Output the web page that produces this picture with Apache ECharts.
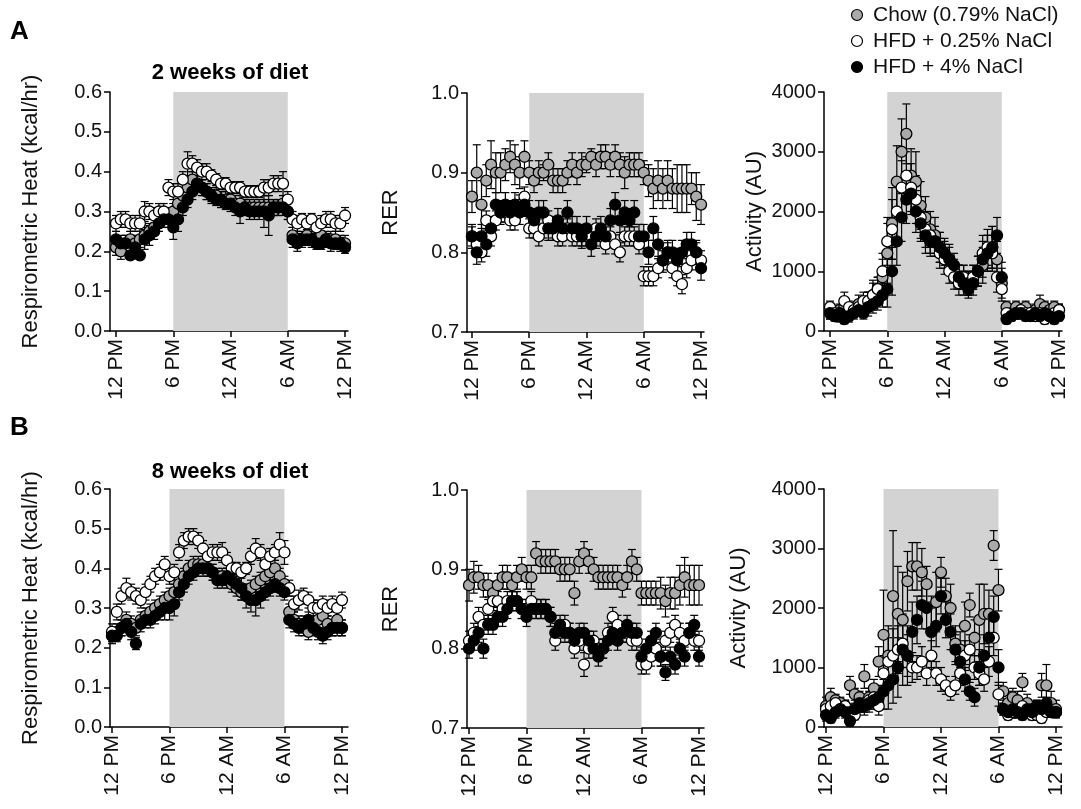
<!DOCTYPE html>
<html>
<head>
<meta charset="utf-8">
<script src="https://cdn.jsdelivr.net/npm/echarts@6/dist/echarts.min.js"></script>
<style>
  html, body { margin: 0; padding: 0; background: #fff; }
  #chart { width: 1081px; height: 809px; }
</style>
</head>
<body>
<div id="chart"></div>
<script>
// time of day, hours after 12 PM (one reading every 30 min)
const hours = [0, 0.5, 1, 1.5, 2, 2.5, 3, 3.5, 4, 4.5, 5, 5.5,
  6, 6.5, 7, 7.5, 8, 8.5, 9, 9.5, 10, 10.5, 11, 11.5,
  12, 12.5, 13, 13.5, 14, 14.5, 15, 15.5, 16, 16.5, 17, 17.5,
  18, 18.5, 19, 19.5, 20, 20.5, 21, 21.5, 22, 22.5, 23, 23.5, 24];
const tickHours = [0, 6, 12, 18, 24];
const tickLabels = ['12 PM', '6 PM', '12 AM', '6 AM', '12 PM'];
const groupNames = ['Chow (0.79% NaCl)', 'HFD + 0.25% NaCl', 'HFD + 4% NaCl'];

// ---- A: 2 weeks of diet ----
const heat2Chow = [0.21,0.20,0.22,0.23,0.22,0.23,0.24,0.25,0.26,0.27,0.28,0.29,
  0.30,0.32,0.34,0.36,0.38,0.37,0.36,0.35,0.34,0.34,0.33,0.33,
  0.33,0.32,0.32,0.31,0.31,0.31,0.31,0.31,0.31,0.31,0.31,0.32,
  0.30,0.24,0.23,0.23,0.24,0.23,0.23,0.24,0.23,0.23,0.23,0.22,0.22];
const heat2ChowErr = [0.02,0.02,0.02,0.02,0.02,0.02,0.02,0.02,0.02,0.02,0.02,0.02,
  0.02,0.02,0.02,0.02,0.02,0.02,0.02,0.02,0.02,0.02,0.02,0.02,
  0.02,0.02,0.02,0.02,0.02,0.02,0.02,0.02,0.02,0.02,0.02,0.02,
  0.02,0.02,0.02,0.02,0.02,0.02,0.02,0.02,0.02,0.02,0.02,0.02,0.02];
const heat2Low = [0.27,0.28,0.28,0.27,0.27,0.27,0.30,0.30,0.29,0.30,0.30,0.36,
  0.35,0.35,0.38,0.42,0.42,0.41,0.40,0.40,0.39,0.38,0.37,0.37,
  0.36,0.36,0.36,0.35,0.35,0.35,0.35,0.36,0.36,0.37,0.37,0.37,
  0.33,0.28,0.27,0.28,0.27,0.28,0.26,0.27,0.28,0.28,0.27,0.27,0.29];
const heat2LowErr = [0.02,0.02,0.02,0.02,0.02,0.02,0.025,0.02,0.02,0.02,0.02,0.02,
  0.02,0.02,0.02,0.03,0.02,0.02,0.02,0.02,0.015,0.015,0.015,0.015,
  0.015,0.015,0.015,0.015,0.015,0.015,0.015,0.02,0.02,0.02,0.02,0.03,
  0.02,0.02,0.02,0.015,0.015,0.015,0.015,0.02,0.02,0.02,0.02,0.02,0.02];
const heat2High = [0.23,0.22,0.22,0.19,0.21,0.19,0.23,0.24,0.25,0.27,0.28,0.28,
  0.26,0.28,0.31,0.33,0.35,0.37,0.36,0.35,0.34,0.33,0.33,0.32,
  0.32,0.31,0.30,0.31,0.30,0.30,0.30,0.30,0.29,0.31,0.31,0.31,
  0.30,0.23,0.22,0.23,0.23,0.23,0.22,0.22,0.23,0.22,0.22,0.22,0.21];
const heat2HighErr = [0.02,0.02,0.02,0.01,0.02,0.01,0.025,0.025,0.02,0.02,0.02,0.02,
  0.03,0.03,0.02,0.02,0.02,0.02,0.02,0.02,0.015,0.015,0.02,0.015,
  0.02,0.02,0.03,0.02,0.02,0.02,0.02,0.04,0.05,0.02,0.02,0.02,
  0.02,0.02,0.02,0.015,0.015,0.015,0.015,0.015,0.015,0.02,0.015,0.015,0.015];

const rer2Chow = [0.87,0.90,0.86,0.89,0.91,0.90,0.90,0.91,0.92,0.91,0.90,0.92,
  0.90,0.89,0.90,0.90,0.91,0.89,0.89,0.89,0.90,0.91,0.90,0.91,
  0.91,0.92,0.91,0.92,0.92,0.91,0.92,0.91,0.90,0.91,0.91,0.91,
  0.90,0.89,0.88,0.89,0.88,0.89,0.88,0.88,0.88,0.88,0.88,0.87,0.86];
const rer2ChowErr = [0.02,0.035,0.03,0.02,0.03,0.025,0.025,0.02,0.02,0.025,0.02,0.02,
  0.015,0.015,0.015,0.01,0.015,0.015,0.015,0.015,0.015,0.015,0.015,0.015,
  0.01,0.01,0.015,0.015,0.015,0.015,0.015,0.015,0.02,0.015,0.015,0.015,
  0.015,0.02,0.025,0.025,0.025,0.025,0.025,0.03,0.03,0.03,0.02,0.03,0.025];
const rer2Low = [0.82,0.81,0.80,0.84,0.82,0.84,0.85,0.85,0.84,0.84,0.86,0.87,
  0.83,0.83,0.82,0.83,0.84,0.83,0.82,0.82,0.83,0.82,0.82,0.82,
  0.82,0.82,0.83,0.82,0.81,0.82,0.81,0.80,0.82,0.82,0.82,0.81,
  0.77,0.77,0.77,0.78,0.79,0.80,0.78,0.77,0.76,0.78,0.79,0.80,0.79];
const rer2LowErr = [0.012,0.012,0.012,0.012,0.012,0.012,0.012,0.012,0.012,0.012,0.012,0.012,
  0.012,0.012,0.012,0.012,0.012,0.012,0.012,0.012,0.012,0.012,0.012,0.012,
  0.012,0.012,0.012,0.012,0.012,0.012,0.012,0.012,0.012,0.012,0.012,0.012,
  0.012,0.012,0.012,0.012,0.012,0.012,0.012,0.012,0.012,0.012,0.012,0.012,0.012];
const rer2High = [0.82,0.80,0.82,0.81,0.83,0.86,0.85,0.86,0.85,0.86,0.85,0.86,
  0.85,0.84,0.85,0.85,0.83,0.83,0.84,0.83,0.85,0.83,0.83,0.82,
  0.83,0.81,0.82,0.83,0.82,0.84,0.86,0.84,0.85,0.84,0.85,0.82,
  0.82,0.80,0.83,0.81,0.79,0.80,0.80,0.79,0.80,0.81,0.81,0.80,0.78];
const rer2HighErr = [0.015,0.015,0.015,0.015,0.015,0.015,0.015,0.015,0.015,0.015,0.015,0.015,
  0.015,0.015,0.015,0.015,0.015,0.015,0.015,0.015,0.015,0.015,0.015,0.015,
  0.015,0.015,0.015,0.015,0.015,0.015,0.015,0.015,0.015,0.015,0.015,0.015,
  0.015,0.015,0.015,0.015,0.015,0.015,0.015,0.015,0.015,0.015,0.015,0.015,0.015];

const act2Chow = [300,250,350,400,300,350,450,400,500,600,700,900,
  1300,1800,2500,3000,3300,2600,2500,2100,1900,1700,1600,1400,
  1300,1200,1000,900,900,800,900,1000,1100,1300,1400,1200,
  800,400,300,400,350,400,300,350,450,400,350,400,350];
const act2ChowErr = [100,80,100,150,100,100,150,100,150,250,200,300,
  500,600,600,550,500,450,500,400,350,300,300,250,
  250,250,200,200,200,200,200,250,300,300,350,300,
  250,100,100,100,100,100,100,100,150,100,100,100,100];
const act2Low = [400,300,250,500,400,350,400,500,500,600,700,1000,
  1500,1700,2000,2400,2600,2400,2200,1900,1700,1600,1500,1300,
  1200,1000,900,800,900,800,900,1000,1300,1400,1300,900,
  700,300,250,300,350,300,300,250,300,200,250,300,350];
const act2LowErr = [100,80,100,150,100,100,100,150,150,200,200,300,
  400,500,500,450,400,400,400,350,300,300,250,250,
  250,200,200,200,200,200,200,250,300,300,300,250,
  200,100,80,100,100,100,100,80,100,80,80,100,100];
const act2High = [300,250,300,200,250,300,350,300,400,450,500,600,
  700,1000,1500,1900,2200,2300,2000,1800,1600,1500,1500,1400,
  1300,1200,1100,900,800,700,800,1000,1200,1300,1400,1600,
  900,200,250,300,300,250,250,300,250,300,250,200,250];
const act2HighErr = [100,80,100,80,100,100,100,100,150,150,150,200,
  300,400,400,400,400,350,350,300,300,250,250,250,
  200,200,200,200,200,150,200,250,300,300,350,300,
  250,80,80,100,100,80,80,100,80,100,80,80,80];

// ---- B: 8 weeks of diet ----
const heat8Chow = [0.23,0.24,0.25,0.27,0.26,0.25,0.27,0.28,0.29,0.30,0.31,0.32,
  0.33,0.34,0.36,0.38,0.40,0.41,0.41,0.41,0.40,0.39,0.38,0.38,
  0.37,0.36,0.35,0.34,0.34,0.35,0.36,0.37,0.38,0.39,0.40,0.38,
  0.36,0.29,0.27,0.26,0.25,0.24,0.26,0.27,0.28,0.26,0.25,0.27,0.25];
const heat8ChowErr = [0.02,0.02,0.02,0.02,0.02,0.02,0.02,0.02,0.02,0.02,0.02,0.02,
  0.02,0.02,0.02,0.02,0.02,0.02,0.02,0.02,0.02,0.02,0.02,0.02,
  0.02,0.02,0.02,0.02,0.02,0.02,0.02,0.02,0.02,0.02,0.02,0.02,
  0.02,0.02,0.02,0.02,0.02,0.02,0.02,0.02,0.02,0.02,0.02,0.02,0.02];
const heat8Low = [0.24,0.29,0.33,0.35,0.34,0.33,0.32,0.34,0.36,0.38,0.39,0.41,
  0.38,0.39,0.44,0.47,0.48,0.48,0.47,0.45,0.43,0.44,0.44,0.44,
  0.42,0.40,0.40,0.39,0.40,0.43,0.45,0.44,0.41,0.43,0.44,0.46,
  0.44,0.35,0.31,0.32,0.33,0.32,0.30,0.30,0.31,0.30,0.31,0.30,0.32];
const heat8LowErr = [0.02,0.02,0.02,0.025,0.02,0.02,0.02,0.02,0.02,0.02,0.02,0.02,
  0.02,0.02,0.02,0.02,0.02,0.02,0.02,0.02,0.02,0.02,0.02,0.025,
  0.02,0.015,0.015,0.015,0.015,0.02,0.025,0.02,0.02,0.02,0.02,0.03,
  0.03,0.02,0.02,0.025,0.02,0.02,0.02,0.02,0.02,0.02,0.02,0.02,0.02];
const heat8High = [0.23,0.23,0.25,0.26,0.24,0.21,0.26,0.27,0.27,0.28,0.29,0.30,
  0.30,0.31,0.34,0.36,0.38,0.39,0.40,0.40,0.40,0.39,0.37,0.37,
  0.38,0.37,0.36,0.35,0.33,0.32,0.32,0.33,0.34,0.35,0.36,0.35,
  0.34,0.27,0.26,0.25,0.26,0.27,0.25,0.24,0.23,0.24,0.25,0.25,0.25];
const heat8HighErr = [0.015,0.015,0.02,0.02,0.02,0.015,0.02,0.02,0.02,0.02,0.02,0.03,
  0.03,0.03,0.02,0.02,0.02,0.02,0.02,0.02,0.02,0.02,0.02,0.02,
  0.02,0.02,0.02,0.03,0.03,0.03,0.04,0.03,0.02,0.02,0.02,0.02,
  0.02,0.02,0.02,0.02,0.02,0.02,0.02,0.02,0.02,0.02,0.02,0.02,0.02];

const rer8Chow = [0.88,0.89,0.89,0.88,0.88,0.87,0.88,0.89,0.89,0.88,0.89,0.90,
  0.89,0.89,0.92,0.91,0.91,0.91,0.91,0.90,0.90,0.90,0.87,0.91,
  0.92,0.91,0.90,0.89,0.89,0.89,0.89,0.89,0.88,0.89,0.91,0.90,
  0.87,0.87,0.87,0.87,0.87,0.86,0.87,0.87,0.88,0.89,0.88,0.88,0.88];
const rer8ChowErr = [0.02,0.02,0.015,0.015,0.015,0.015,0.015,0.015,0.015,0.015,0.015,0.015,
  0.015,0.015,0.015,0.015,0.015,0.015,0.015,0.015,0.015,0.015,0.015,0.015,
  0.015,0.015,0.015,0.015,0.015,0.015,0.015,0.015,0.015,0.015,0.015,0.015,
  0.015,0.015,0.015,0.015,0.02,0.02,0.02,0.02,0.025,0.025,0.025,0.025,0.025];
const rer8Low = [0.81,0.82,0.84,0.83,0.85,0.86,0.86,0.85,0.86,0.86,0.86,0.85,
  0.85,0.86,0.85,0.85,0.85,0.84,0.81,0.82,0.83,0.82,0.80,0.81,
  0.78,0.80,0.81,0.80,0.80,0.82,0.84,0.83,0.82,0.82,0.81,0.81,
  0.78,0.78,0.79,0.80,0.79,0.81,0.82,0.83,0.82,0.81,0.82,0.81,0.81];
const rer8LowErr = [0.012,0.012,0.012,0.012,0.012,0.012,0.012,0.012,0.012,0.012,0.012,0.012,
  0.012,0.012,0.012,0.012,0.012,0.012,0.012,0.012,0.012,0.012,0.012,0.012,
  0.015,0.012,0.012,0.012,0.012,0.012,0.012,0.012,0.012,0.012,0.012,0.012,
  0.012,0.012,0.012,0.012,0.012,0.012,0.012,0.012,0.012,0.012,0.012,0.012,0.012];
const rer8High = [0.80,0.81,0.82,0.80,0.83,0.83,0.84,0.84,0.85,0.86,0.86,0.85,
  0.84,0.85,0.85,0.85,0.85,0.84,0.82,0.83,0.82,0.82,0.81,0.82,
  0.82,0.81,0.80,0.79,0.80,0.81,0.82,0.81,0.82,0.83,0.82,0.82,
  0.79,0.80,0.81,0.82,0.79,0.77,0.79,0.78,0.80,0.79,0.82,0.83,0.79];
const rer8HighErr = [0.012,0.012,0.012,0.012,0.012,0.012,0.012,0.012,0.012,0.012,0.012,0.012,
  0.012,0.012,0.012,0.012,0.012,0.012,0.012,0.012,0.012,0.012,0.012,0.012,
  0.012,0.012,0.012,0.012,0.012,0.012,0.012,0.012,0.012,0.012,0.012,0.012,
  0.012,0.012,0.012,0.012,0.012,0.01,0.012,0.012,0.012,0.012,0.012,0.012,0.012];

const act8Chow = [350,500,450,400,350,700,550,500,850,500,650,1100,
  1550,1200,2200,1900,1800,2450,2700,2700,2600,2400,1600,2100,
  2600,2200,2000,1400,1300,1700,2050,1500,1800,1900,1900,3050,
  2300,600,400,500,450,750,400,300,350,700,700,400,300];
const act8ChowErr = [150,150,100,100,100,150,100,100,200,150,150,250,
  750,500,1100,800,800,500,400,400,400,300,600,500,
  250,300,400,300,300,400,200,300,600,500,400,250,
  350,150,200,150,150,150,150,100,100,200,350,200,150];
const act8Low = [300,350,400,300,350,250,200,350,400,450,500,350,
  900,1100,1200,1300,1400,1200,1000,1000,1100,900,1200,900,
  800,700,600,700,900,1200,1300,1000,900,800,1100,1500,
  550,300,200,250,300,350,250,200,200,150,250,250,250];
const act8LowErr = [100,100,100,100,100,100,80,100,150,150,150,150,
  300,400,450,400,400,350,250,200,250,200,250,200,
  200,150,150,150,200,250,250,200,200,200,250,300,
  200,100,80,100,100,100,80,80,80,80,80,80,80];
const act8High = [200,150,250,300,250,100,300,400,350,400,450,500,
  600,700,800,1000,1300,1200,1600,1800,2050,2000,1600,1700,
  2200,1800,1600,1300,1100,800,600,500,1000,1200,1500,1850,
  1000,300,250,300,250,200,300,250,350,300,400,250,250];
const act8HighErr = [100,80,100,100,100,80,100,150,150,150,150,200,
  300,400,400,500,600,500,500,400,400,350,400,350,
  300,300,300,250,250,200,150,150,300,350,400,350,
  300,100,100,100,100,80,100,100,100,100,100,80,80];

const fontFamily = '"Liberation Sans", Arial, sans-serif';
const fills = ['#aaaaaa', '#ffffff', '#000000'];

const panels = [
  { left: 110, top: 92, width: 238, height: 239, xmin: -0.63, xmax: 24.31, ymin: 0, ymax: 0.6, step: 0.1, dec: 1, name: 'Respirometric Heat (kcal/hr)', gap: 68,
    sets: [[heat2Chow, heat2ChowErr], [heat2Low, heat2LowErr], [heat2High, heat2HighErr]] },
  { left: 467, top: 93, width: 237, height: 239, xmin: -0.52, xmax: 24.31, ymin: 0.7, ymax: 1.0, step: 0.1, dec: 1, name: 'RER', gap: 65,
    sets: [[rer2Chow, rer2ChowErr], [rer2Low, rer2LowErr], [rer2High, rer2HighErr]] },
  { left: 824, top: 92, width: 238, height: 239, xmin: -0.63, xmax: 24.31, ymin: 0, ymax: 4000, step: 1000, dec: 0, name: 'Activity (AU)', gap: 58,
    sets: [[act2Chow, act2ChowErr], [act2Low, act2LowErr], [act2High, act2HighErr]] },
  { left: 110, top: 489, width: 238, height: 238, xmin: -0.21, xmax: 24.63, ymin: 0, ymax: 0.6, step: 0.1, dec: 1, name: 'Respirometric Heat (kcal/hr)', gap: 68,
    sets: [[heat8Chow, heat8ChowErr], [heat8Low, heat8LowErr], [heat8High, heat8HighErr]] },
  { left: 467, top: 490, width: 237, height: 238, xmin: -0.21, xmax: 24.52, ymin: 0.7, ymax: 1.0, step: 0.1, dec: 1, name: 'RER', gap: 65,
    sets: [[rer8Chow, rer8ChowErr], [rer8Low, rer8LowErr], [rer8High, rer8HighErr]] },
  { left: 824, top: 489, width: 238, height: 238, xmin: -0.21, xmax: 24.63, ymin: 0, ymax: 4000, step: 1000, dec: 0, name: 'Activity (AU)', gap: 74,
    sets: [[act8Chow, act8ChowErr], [act8Low, act8LowErr], [act8High, act8HighErr]] }
];

function renderErrorBar(params, api) {
  const x = api.value(0), y = api.value(1), e = api.value(2);
  const hi = api.coord([x, y + e]);
  const lo = api.coord([x, y - e]);
  const cap = 4;
  const style = { stroke: '#000', lineWidth: 1.2 };
  return {
    type: 'group',
    children: [
      { type: 'line', shape: { x1: hi[0], y1: hi[1], x2: lo[0], y2: lo[1] }, style },
      { type: 'line', shape: { x1: hi[0] - cap, y1: hi[1], x2: hi[0] + cap, y2: hi[1] }, style },
      { type: 'line', shape: { x1: lo[0] - cap, y1: lo[1], x2: lo[0] + cap, y2: lo[1] }, style }
    ]
  };
}

const grid = [], xAxis = [], yAxis = [], series = [];
const axisLine = { show: true, lineStyle: { color: '#000', width: 1.5 } };
const axisFont = { color: '#111', fontFamily };

panels.forEach((p, k) => {
  grid.push({ left: p.left, top: p.top, width: p.width, height: p.height });
  xAxis.push({
    type: 'value', gridIndex: k, min: p.xmin, max: p.xmax,
    splitLine: { show: false },
    axisLine: { ...axisLine, onZero: false },
    axisTick: { show: true, length: 6, lineStyle: { color: '#000', width: 1.5 }, customValues: tickHours },
    axisLabel: { ...axisFont, fontSize: 21, rotate: 90, margin: 8, customValues: tickHours,
      formatter: v => tickLabels[tickHours.indexOf(v)] }
  });
  yAxis.push({
    type: 'value', gridIndex: k, min: p.ymin, max: p.ymax, interval: p.step,
    splitLine: { show: false },
    axisLine: { ...axisLine, onZero: false },
    axisTick: { show: true, length: 6, lineStyle: { color: '#000', width: 1.5 } },
    axisLabel: { ...axisFont, fontSize: 20, margin: 8, formatter: v => v.toFixed(p.dec) },
    name: p.name, nameLocation: 'middle', nameGap: p.gap, nameRotate: 90,
    nameTextStyle: { color: '#111', fontSize: 22, fontFamily }
  });
  // dark phase shading, 6 PM to 6 AM
  series.push({
    type: 'scatter', xAxisIndex: k, yAxisIndex: k, data: [], z: 1, silent: true,
    markArea: { silent: true, itemStyle: { color: '#d3d3d3' }, data: [[{ xAxis: 6 }, { xAxis: 18 }]] }
  });
  p.sets.forEach((s, g) => {
    const rows = hours.map((h, i) => [h, s[0][i], s[1][i]]);
    series.push({
      type: 'custom', name: groupNames[g], xAxisIndex: k, yAxisIndex: k, z: 2,
      renderItem: renderErrorBar, data: rows, silent: true
    });
    series.push({
      type: 'scatter', name: groupNames[g], xAxisIndex: k, yAxisIndex: k, z: 2,
      symbol: 'circle', symbolSize: 11, data: rows.map(r => [r[0], r[1]]),
      itemStyle: { color: fills[g], borderColor: '#000', borderWidth: 1.3, opacity: 1 }
    });
  });
});

const graphic = [
  { type: 'text', left: 10, top: 19, style: { text: 'A', font: 'bold 26px ' + fontFamily, fill: '#000' } },
  { type: 'text', left: 10, top: 415, style: { text: 'B', font: 'bold 26px ' + fontFamily, fill: '#000' } },
  { type: 'text', x: 230, y: 73, style: { text: '2 weeks of diet', font: 'bold 22px ' + fontFamily, fill: '#000', textAlign: 'center', textVerticalAlign: 'middle' } },
  { type: 'text', x: 230, y: 472, style: { text: '8 weeks of diet', font: 'bold 22px ' + fontFamily, fill: '#000', textAlign: 'center', textVerticalAlign: 'middle' } }
];
groupNames.forEach((n, g) => {
  const cy = 15 + g * 26;
  graphic.push({ type: 'circle', shape: { cx: 857, cy, r: 5.5 }, style: { fill: fills[g], stroke: '#000', lineWidth: 1.2 } });
  graphic.push({ type: 'text', x: 873, y: cy, style: { text: n, font: '21px ' + fontFamily, fill: '#111', textVerticalAlign: 'middle' } });
});

const chart = echarts.init(document.getElementById('chart'));
chart.setOption({
  animation: false,
  backgroundColor: '#fff',
  grid, xAxis, yAxis, series, graphic
});
</script>
</body>
</html>
